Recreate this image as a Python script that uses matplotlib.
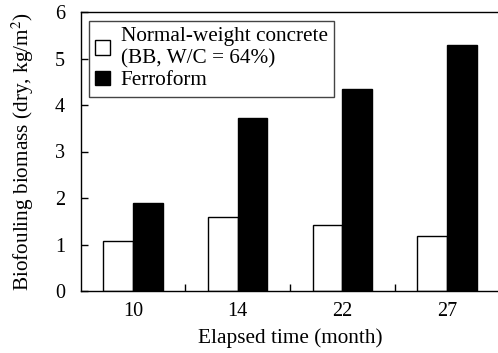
import matplotlib
matplotlib.use("Agg")
import matplotlib.pyplot as plt
import numpy as np

categories = ["10", "14", "22", "27"]
normal_concrete = [1.08, 1.59, 1.41, 1.19]
ferroform = [1.89, 3.73, 4.35, 5.30]
labels = ["Normal-weight concrete\n(BB, W/C = 64%)", "Ferroform"]

plt.rcParams['font.family'] = ['Liberation Serif', 'DejaVu Serif']
plt.rcParams['mathtext.fontset'] = 'stix'

fig = plt.figure(figsize=(4.98, 3.53), dpi=100)
ax = fig.add_axes([80.5/498, 62/353, 1.003 - 80.5/498, (291-12)/353])

x = np.arange(len(categories))
w = 0.285
ax.bar(x - w/2, normal_concrete, w, color='white', edgecolor='black', linewidth=1.0, label=labels[0])
ax.bar(x + w/2, ferroform, w, color='black', edgecolor='black', linewidth=1.0, label=labels[1])

ax.set_xlim(-0.5, len(categories) - 0.5)
ax.set_ylim(0, 6)
ax.set_xticks(x)
ax.set_xticklabels(categories)
ax.set_xticks(np.arange(0.5, len(categories) - 0.5, 1), minor=True)
ax.tick_params(axis='x', which='major', length=0, labelsize=14.5, pad=8)
ax.tick_params(axis='x', which='minor', direction='in', length=5, width=1)
ax.set_yticks(range(0, 7))
ax.tick_params(axis='y', direction='in', length=5, width=1, labelsize=14.5, pad=11)
for s in ax.spines.values():
    s.set_linewidth(1.0)

ax.set_xlabel("Elapsed time (month)", fontsize=15.3, labelpad=5)
ax.set_ylabel("Biofouling biomass (dry, kg/m$^2$)", fontsize=15.3, labelpad=14)

leg = ax.legend(loc='upper left', bbox_to_anchor=(0.02, 0.968), fontsize=15.3,
                frameon=True, fancybox=False, edgecolor='#444444', framealpha=1,
                handlelength=0.7, handleheight=0.7, handletextpad=0.5,
                borderpad=0.3, labelspacing=0.1, borderaxespad=0)
leg.get_frame().set_linewidth(1.0)

fig.savefig("out.png", dpi=100)
